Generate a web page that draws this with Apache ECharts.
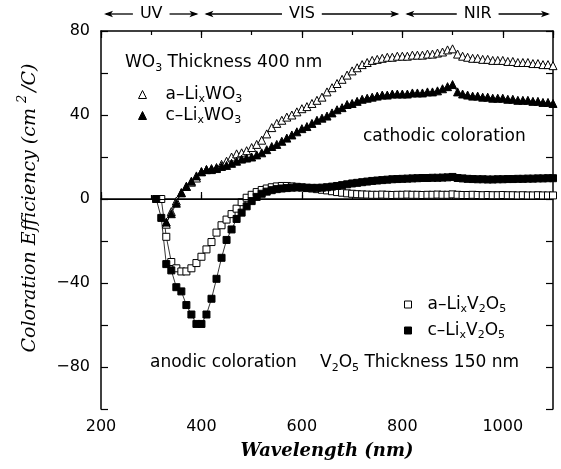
<!DOCTYPE html>
<html>
<head>
<meta charset="utf-8">
<script src="https://cdn.jsdelivr.net/npm/echarts@6/dist/echarts.min.js"></script>
<style>
  html, body { margin: 0; padding: 0; background: #fff; }
  #chart { width: 561px; height: 469px; }
</style>
</head>
<body>
<div id="chart"></div>
<script>
// Wavelength grids (nm)
const wavelengthV2O5 = [310,320,330,340,350,360,370,380,390,400,410,420,430,440,450,460,470,480,490,500,510,520,530,540,550,560,570,580,590,600,610,620,630,640,650,660,670,680,690,700,710,720,730,740,750,760,770,780,790,800,810,820,830,840,850,860,870,880,890,900,910,920,930,940,950,960,970,980,990,1000,1010,1020,1030,1040,1050,1060,1070,1080,1090,1100];
const wavelengthWO3 = [330,340,350,360,370,380,390,400,410,420,430,440,450,460,470,480,490,500,510,520,530,540,550,560,570,580,590,600,610,620,630,640,650,660,670,680,690,700,710,720,730,740,750,760,770,780,790,800,810,820,830,840,850,860,870,880,890,900,910,920,930,940,950,960,970,980,990,1000,1010,1020,1030,1040,1050,1060,1070,1080,1090,1100];

// Coloration efficiency (cm^2/C)
const aWO3 = [-12,-6,-1,3,6,8,10,13,14,14.5,
  15,16.5,18,20,21.5,22,23,24.5,26,28,
  31,34,36,37.5,39,40,41.5,43,44,45.5,
  47,48.5,51,53,55,57,59,61,62.5,64,
  65,66,66.5,67,67.5,67.5,68,68,68,68.5,
  68.5,68.5,69,69,69.5,70,71,71.5,69,68,
  67.5,67,67,66.5,66.5,66,66,66,65.5,65.5,
  65,65,65,64.5,64.5,64,64,63.5];
const cWO3 = [-11,-7,-2,3,6,8.5,11,13,14,14,
  14.5,15.5,16,17,18,19,19.5,20,21,22,
  23.5,25,26,27.5,29,30.5,32,33.5,34.5,36,
  37.5,38.5,39.5,41,42.5,43.5,45,45.5,46.5,47.5,
  48,48.5,49,49.5,49.5,50,50,50,50,50.5,
  50.5,50.5,51,51,51.5,52.5,53.5,54.5,51,50,
  49.5,49,49,48.5,48.5,48,48,48,47.5,47.5,
  47,47,47,46.5,46.5,46,46,45.5];
const aV2O5 = [0,0,-18,-30,-33,-34.5,-34.5,-33,-30.5,-27.5,
  -24,-20.5,-16,-12.5,-9.8,-7.2,-4.6,-1.5,0.6,2,
  3.3,4.3,5,5.6,6,6.2,6.2,6,5.8,5.5,
  5.2,5,4.7,4.4,4.1,3.7,3.3,3,2.7,2.5,
  2.3,2.2,2.1,2,2,2.1,2,1.9,2,2,
  2.1,2,2,1.9,2,2,2.1,2,2,2.2,
  2,1.9,1.9,2,1.9,1.8,1.9,1.8,1.8,1.9,
  1.8,1.8,1.7,1.8,1.7,1.7,1.8,1.7,1.7,1.7];
const cV2O5 = [0,-9,-31,-34,-42,-44,-50.5,-55,-59.5,-59.5,
  -55,-47.5,-38,-28,-19.5,-14.5,-9.5,-6.5,-3.5,-1,
  1,2.5,3.5,4.2,4.7,5,5.2,5.4,5.5,5.5,
  5.4,5.3,5.3,5.4,5.6,5.9,6.2,6.6,7,7.4,
  7.7,8,8.3,8.6,8.8,9,9.2,9.4,9.5,9.6,
  9.7,9.8,9.9,10,10,10.1,10.1,10.2,10.3,10.5,
  10,9.8,9.6,9.5,9.4,9.4,9.3,9.3,9.4,9.4,
  9.5,9.5,9.6,9.6,9.7,9.7,9.8,9.8,9.9,9.9];

// Tick labels
const xTickLabels = [200, 400, 600, 800, 1000];
const yTickLabels = [-80, -40, 0, 40, 80];

// Spectral regions shown above the plot
const regionNames = ['UV', 'VIS', 'NIR'];
const regionEdges = [200, 400, 800, 1100];

const SANS = '"DejaVu Sans", sans-serif';
const SERIF = '"DejaVu Serif", serif';
const INK = '#000';

const rich = {
  n: { fontFamily: SANS, fontSize: 17, color: INK, fill: INK, lineHeight: 22 },
  s: { fontFamily: SANS, fontSize: 11, color: INK, fill: INK, lineHeight: 22, padding: [10, 0, 0, 0] },
  g: { width: 14, lineHeight: 22 },
  h: { width: 11, lineHeight: 22 }
};

const legendText = {
  'a-LixWO3': '{g|}{n|a–Li}{s|x}{n|WO}{s|3}',
  'c-LixWO3': '{g|}{n|c–Li}{s|x}{n|WO}{s|3}',
  'a-LixV2O5': '{h|}{n|a–Li}{s|x}{n|V}{s|2}{n|O}{s|5}',
  'c-LixV2O5': '{h|}{n|c–Li}{s|x}{n|V}{s|2}{n|O}{s|5}'
};

function pairs(xs, ys) { return xs.map((x, i) => [x, ys[i]]); }

const chart = echarts.init(document.getElementById('chart'), null, { renderer: 'canvas' });

const axisLine = { show: true, lineStyle: { color: INK, width: 1.5 } };
const shortTick = { show: true, inside: true, length: 4, lineStyle: { color: INK, width: 1.2 } };
const longTick = { show: true, inside: true, length: 7, lineStyle: { color: INK, width: 1.2 } };
const xBase = { type: 'value', min: 200, max: 1100, splitLine: { show: false } };
const yBase = { type: 'value', min: -100, max: 80, interval: 20, splitLine: { show: false } };

const openMark = { color: '#fff', borderColor: INK, borderWidth: 1 };
const filledMark = { color: INK, borderColor: INK, borderWidth: 1 };

function lineSeries(name, xs, ys, symbol, size, style, extra) {
  return Object.assign({
    name, type: 'line', data: pairs(xs, ys),
    symbol, symbolSize: size, showAllSymbol: true,
    itemStyle: style,
    lineStyle: { color: INK, width: 0.8 },
    emphasis: { disabled: true },
    silent: true
  }, extra || {});
}

chart.setOption({
  animation: false,
  textStyle: { fontFamily: SANS, color: INK },
  grid: { left: 101, right: 8, top: 31, bottom: 60, containLabel: false },
  xAxis: [
    Object.assign({}, xBase, {
      position: 'bottom', interval: 100, axisLine, axisTick: shortTick,
      axisLabel: {
        formatter: v => xTickLabels.includes(v) ? String(v) : '',
        margin: 10, fontSize: 16, color: INK, fontFamily: SANS
      },
      name: 'Wavelength (nm)', nameLocation: 'middle', nameGap: 33,
      nameTextStyle: { fontFamily: SERIF, fontStyle: 'italic', fontWeight: 'bold', fontSize: 18, color: INK }
    }),
    Object.assign({}, xBase, { position: 'bottom', interval: 200, axisLine: { show: false }, axisTick: longTick, axisLabel: { show: false } }),
    Object.assign({}, xBase, { position: 'top', interval: 100, axisLine, axisTick: shortTick, axisLabel: { show: false } }),
    Object.assign({}, xBase, { position: 'top', interval: 200, axisLine: { show: false }, axisTick: longTick, axisLabel: { show: false } })
  ],
  yAxis: [
    Object.assign({}, yBase, {
      position: 'left', axisLine, axisTick: longTick,
      axisLabel: {
        formatter: v => yTickLabels.includes(v) ? (v < 0 ? '−' + Math.abs(v) : String(v)) : '',
        margin: 11, fontSize: 16, color: INK, fontFamily: SANS
      },
      name: '{t|Coloration Efficiency (cm}{u|2}{t|/C)}',
      nameLocation: 'middle', nameGap: 60,
      nameTextStyle: {
        padding: [0, 0, 0, 24],
        rich: {
          t: { fontFamily: SERIF, fontStyle: 'italic', fontSize: 19, color: INK, lineHeight: 22 },
          u: { fontFamily: SERIF, fontStyle: 'italic', fontSize: 13, color: INK, lineHeight: 22, padding: [0, 3, 14, 5] }
        }
      }
    }),
    Object.assign({}, yBase, { position: 'right', axisLine, axisTick: longTick, axisLabel: { show: false } })
  ],
  legend: [
    {
      data: [
        { name: 'a-LixWO3', icon: 'triangle', itemStyle: openMark },
        { name: 'c-LixWO3', icon: 'triangle', itemStyle: filledMark }
      ],
      orient: 'vertical', left: 138, top: 84, padding: 0, itemWidth: 8, itemHeight: 8, itemGap: 0,
      selectedMode: false, formatter: n => legendText[n], textStyle: { rich }
    },
    {
      data: [
        { name: 'a-LixV2O5', icon: 'rect', itemStyle: openMark },
        { name: 'c-LixV2O5', icon: 'rect', itemStyle: filledMark }
      ],
      orient: 'vertical', left: 404, top: 294, padding: 0, itemWidth: 7, itemHeight: 7, itemGap: 5,
      selectedMode: false, formatter: n => legendText[n], textStyle: { rich }
    }
  ],
  series: [
    lineSeries('a-LixWO3', wavelengthWO3, aWO3, 'triangle', 8, openMark, {
      markLine: {
        silent: true, symbol: ['none', 'none'], label: { show: false },
        lineStyle: { color: INK, width: 1, type: 'solid' },
        data: [{ yAxis: 0 }]
      }
    }),
    lineSeries('c-LixWO3', wavelengthWO3, cWO3, 'triangle', 8, filledMark),
    lineSeries('a-LixV2O5', wavelengthV2O5, aV2O5, 'rect', 7, openMark),
    lineSeries('c-LixV2O5', wavelengthV2O5, cV2O5, 'rect', 7, filledMark)
  ]
});

// Text annotations and region arrows, placed through the x scale
const measureCtx = document.createElement('canvas').getContext('2d');
function textWidth(str, size) {
  measureCtx.font = size + 'px "DejaVu Sans"';
  return measureCtx.measureText(str).width;
}

const graphics = [];
function richText(text, x, y) {
  graphics.push({ type: 'text', silent: true, style: { text, rich, x, y, align: 'left', verticalAlign: 'middle', fill: INK } });
}
richText('{n|WO}{s|3}{n| Thickness 400 nm}', 125, 63);
richText('{n|cathodic coloration}', 363, 137);
richText('{n|anodic coloration}', 150, 363);
richText('{n|V}{s|2}{n|O}{s|5}{n| Thickness 150 nm}', 320, 363);

const arrowY = 14;
const stroke = { stroke: INK, lineWidth: 1.3 };
function arrowHead(x, dir) {
  const len = 9, half = 3.2;
  graphics.push({ type: 'polygon', silent: true, shape: { points: [[x, arrowY], [x - dir * len, arrowY - half], [x - dir * len * 0.75, arrowY], [x - dir * len, arrowY + half]] }, style: { fill: INK } });
}
for (let i = 0; i < regionNames.length; i++) {
  const x1 = chart.convertToPixel({ xAxisIndex: 0 }, regionEdges[i]) + 3;
  const x2 = chart.convertToPixel({ xAxisIndex: 0 }, regionEdges[i + 1]) - 3;
  const mid = (x1 + x2) / 2;
  const half = textWidth(regionNames[i], 16) / 2;
  graphics.push({ type: 'text', silent: true, style: { text: regionNames[i], x: mid, y: arrowY, align: 'center', verticalAlign: 'middle', fontFamily: SANS, fontSize: 16, fill: INK } });
  graphics.push({ type: 'line', silent: true, shape: { x1: x1 + 2, y1: arrowY, x2: mid - half - 7, y2: arrowY }, style: stroke });
  graphics.push({ type: 'line', silent: true, shape: { x1: mid + half + 7, y1: arrowY, x2: x2 - 2, y2: arrowY }, style: stroke });
  arrowHead(x1, -1);
  arrowHead(x2, 1);
}
chart.setOption({ graphic: graphics });
</script>
</body>
</html>
